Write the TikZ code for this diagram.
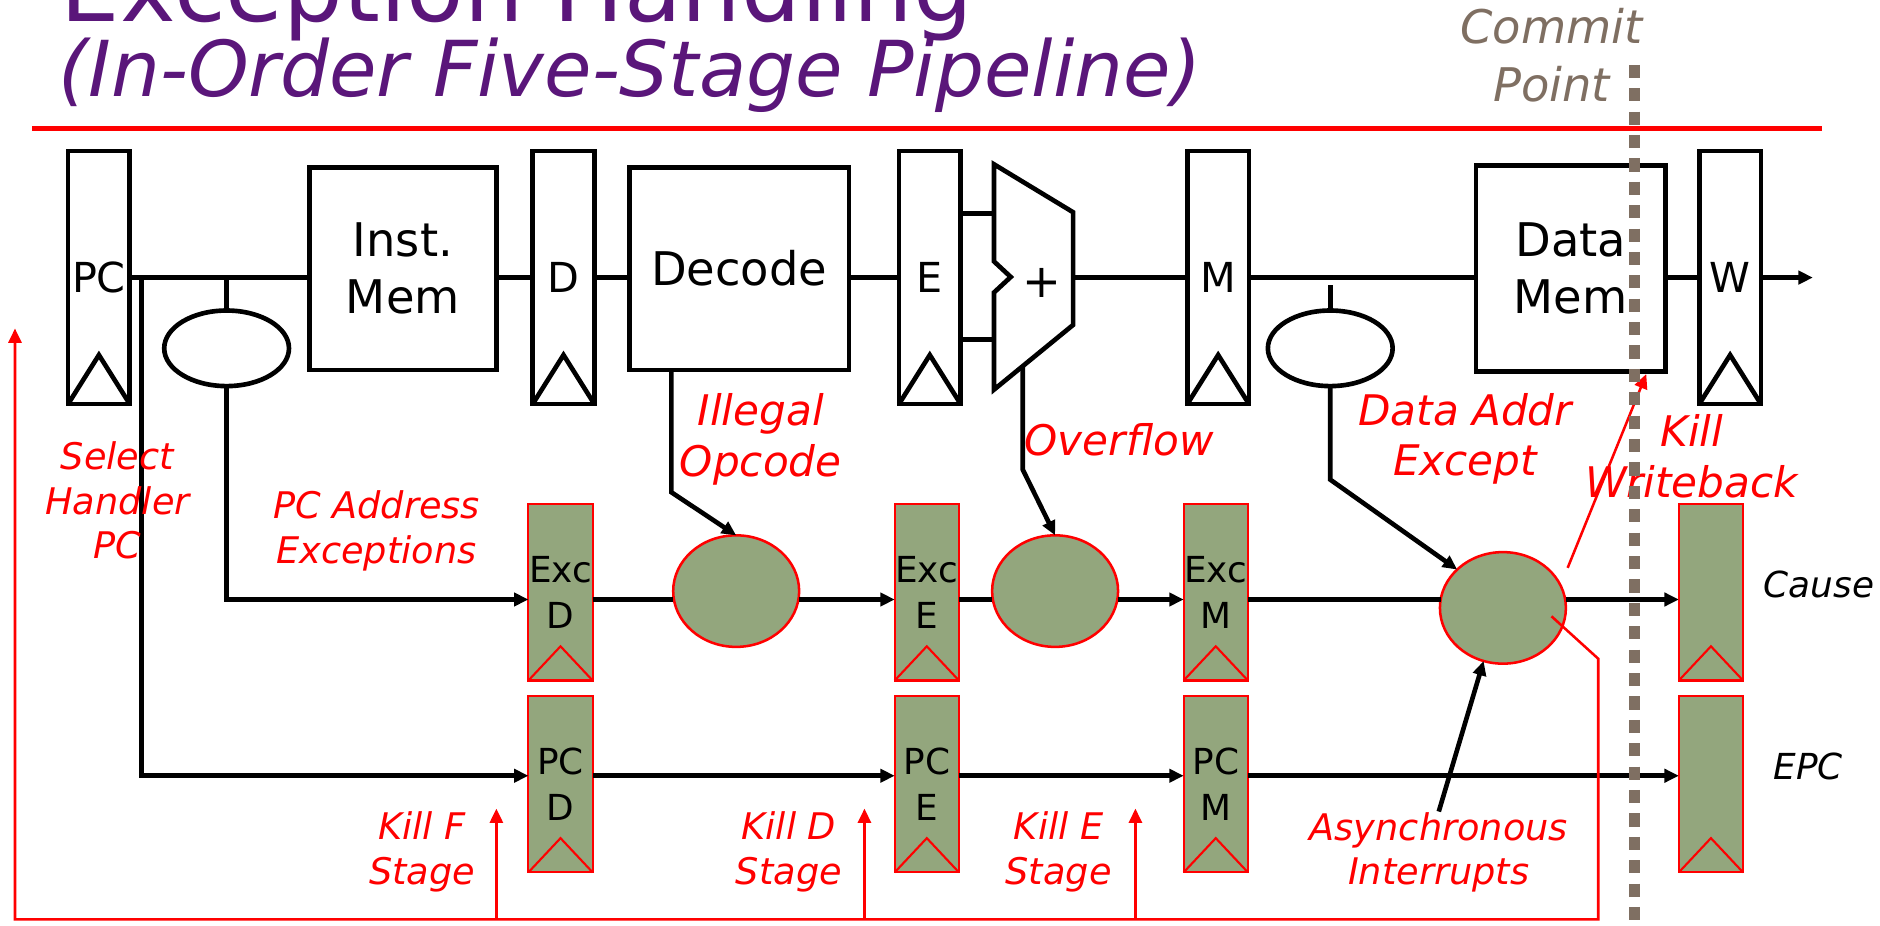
\documentclass[tikz,border=0pt]{standalone}
\usepackage{fontspec}
\setmainfont{DejaVu Sans}
\usetikzlibrary{shapes.geometric,arrows.meta,calc}
\definecolor{ttl}{RGB}{90,22,122}
\definecolor{grn}{RGB}{147,166,125}
\definecolor{cmt}{RGB}{127,111,98}
\tikzset{
  wire/.style={line width=1.1pt},
  kill/.style={red,line width=0.6pt},
  reg/.style={draw,line width=1.1pt,inner sep=0pt,outer sep=0pt,minimum width=0.515cm,minimum height=2.11cm,font=\fontsize{9.8}{11}\selectfont},
  block/.style={draw,line width=1.1pt,inner sep=0pt,outer sep=0pt,align=center,font=\fontsize{11}{13.6}\selectfont},
  mux/.style={draw,ellipse,line width=1.1pt,inner sep=0pt,outer sep=0pt,minimum width=1.04cm,minimum height=0.63cm},
  greg/.style={draw=red,fill=grn,line width=0.5pt,inner sep=0pt,outer sep=0pt,minimum width=0.535cm,minimum height=1.47cm,align=center,font=\fontsize{8.5}{11}\selectfont},
  gbub/.style={draw=red,fill=grn,ellipse,line width=0.6pt,inner sep=0pt,outer sep=0pt,minimum width=1.05cm,minimum height=0.93cm},
  lbl/.style={red,inner sep=0pt,align=center,font=\itshape\fontsize{8.7}{10.6}\selectfont},
  biglbl/.style={red,inner sep=0pt,align=center,font=\itshape\fontsize{10}{12}\selectfont},
}

\begin{document}
\begin{tikzpicture}[x=0.01cm,y=-0.01cm,>={Triangle[length=0.12cm,width=0.11cm]}]
    \useasboundingbox (0,0) rectangle (1568,772);
    % title
    \node[ttl,anchor=base west,inner sep=0pt,font=\fontsize{22.3}{27}\selectfont] (title) at (50,18) {Exception Handling};
    \node[ttl,anchor=base west,inner sep=0pt,font=\itshape\fontsize{18.3}{21}\selectfont] (subtitle) at (48,80.5) {(In-Order Five-Stage Pipeline)};
    \draw[red,line width=0.04cm] (27,107) -- (1520,107);
    \node[cmt,inner sep=0pt,align=center,font=\itshape\fontsize{11}{13.6}\selectfont] (commit) at (1294,46) {Commit\\Point};

    % main pipeline
    \node[reg] (PC) at (82.5,231.5) {PC};
    \node[block,minimum width=1.56cm,minimum height=1.69cm] (IM) at (336,224) {Inst.\\Mem};
    \node[reg] (D) at (470,231.5) {D};
    \node[block,minimum width=1.83cm,minimum height=1.69cm] (DEC) at (616.5,224) {Decode};
    \node[reg] (E) at (775.5,231.5) {E};
    \node[reg] (M) at (1016,231.5) {M};
    \node[block,minimum width=1.58cm,minimum height=1.72cm] (DM) at (1310,224) {Data\\Mem};
    \node[reg] (W) at (1443,231.5) {W};
    \coordinate (out) at (1512,231.5);
    \foreach \r in {PC,D,E,M,W}
        \draw[wire] (\r.south west) -- ($(\r.south)+(0,-41)$) -- (\r.south east);

    % ALU
    \coordinate (aluA) at (829,178);
    \coordinate (aluB) at (829,283);
    \coordinate (aluout) at (895,231.5);
    \coordinate (aluC) at (853,305.6);
    \draw[wire] (829,137) -- (895,177) -- (895,271) -- (829,325) -- (829,244) -- (843,231) -- (829,218) -- cycle;
    \node[font=\fontsize{11}{13}\selectfont] (aluop) at (869,236) {+};

    % muxes
    \node[mux] (mux1) at (189,290.5) {};
    \node[mux] (mux2) at (1109.5,290.5) {};

    \draw[wire] (PC.east) -- (PC.east -| IM.west);
    \draw[wire] (IM.east |- D.west) -- (D.west);
    \draw[wire] (D.east) -- (D.east -| DEC.west);
    \draw[wire] (DEC.east |- E.west) -- (E.west);
    \draw[wire] (E.east |- aluA) -- (aluA);
    \draw[wire] (E.east |- aluB) -- (aluB);
    \draw[wire] (aluout) -- (aluout -| M.west);
    \draw[wire] (M.east) -- (M.east -| DM.west);
    \draw[wire] (DM.east |- W.west) -- (W.west);
    \draw[wire,->] (W.east) -- (out);
    \draw[wire] (mux1.north) -- (mux1.north |- PC.east);
    \draw[wire] (mux2.north) -- ++(0,-21);

    % exception pipeline
    \coordinate (excrow) at (0,500);
    \coordinate (pcrow) at (0,647);
    \node[greg] (ExcD) at (467.5,494) {Exc\\D};
    \node[greg] (PCD) at (467.5,654) {PC\\D};
    \node[greg] (ExcE) at (773,494) {Exc\\E};
    \node[greg] (PCE) at (773,654) {PC\\E};
    \node[greg] (ExcM) at (1014,494) {Exc\\M};
    \node[greg] (PCM) at (1014,654) {PC\\M};
    \node[greg] (CauseR) at (1427,494) {};
    \node[greg] (EPCR) at (1427,654) {};
    \foreach \r in {ExcD,PCD,ExcE,PCE,ExcM,PCM,CauseR,EPCR}
        \draw[red,line width=0.5pt] (\r.south west) -- ($(\r.south)+(0,-28.5)$) -- (\r.south east);
    \node[gbub] (g1) at (614,493) {};
    \node[gbub] (g2) at (880,493) {};
    \node[gbub] (g3) at (1253.5,507) {};

    \draw[wire,->] (mux1.south) |- (excrow -| ExcD.west);
    \draw[wire,->] ($(PC.east)+(10,0)$) |- (pcrow -| PCD.west);
    \draw[wire] (ExcD.east |- excrow) -- (excrow -| g1.west);
    \draw[wire,->] (g1.east |- excrow) -- (excrow -| ExcE.west);
    \draw[wire] (ExcE.east |- excrow) -- (excrow -| g2.west);
    \draw[wire,->] (g2.east |- excrow) -- (excrow -| ExcM.west);
    \draw[wire] (ExcM.east |- excrow) -- ($(excrow -| g3.west)+(1,0)$);
    \draw[wire,->] (g3.east |- excrow) -- (excrow -| CauseR.west);
    \draw[wire,->] (PCD.east |- pcrow) -- (pcrow -| PCE.west);
    \draw[wire,->] (PCE.east |- pcrow) -- (pcrow -| PCM.west);
    \draw[wire,->] (PCM.east |- pcrow) -- (pcrow -| EPCR.west);

    \draw[wire,->] ($(DEC.south west)+(35,0)$) -- ++(0,102) -- (g1.north);
    \draw[wire,->] (aluC) -- ++(0,86) -- (g2.north);
    \draw[wire,->] (mux2.south) -- ++(0,78) -- (g3.140);

    % labels
    \node[lbl] (sel) at (98,417.5) {Select\\Handler\\PC};
    \node[lbl] (pcexc) at (314,442.5) {PC Address\\Exceptions};
    \node[biglbl] (illop) at (634.5,366.5) {Illegal\\Opcode};
    \node[biglbl] (ovf) at (933.5,366.5) {Overflow};
    \node[biglbl] (dae) at (1222,366) {Data Addr\\Except};
    \node[biglbl] (kwb) at (1411,380.5) {Kill\\Writeback};
    \node[lbl] (killFt) at (352,710.5) {Kill F\\Stage};
    \node[lbl] (killDt) at (658,710.5) {Kill D\\Stage};
    \node[lbl] (killEt) at (883,710.5) {Kill E\\Stage};
    \node[lbl] (async) at (1200,711) {Asynchronous\\Interrupts};
    \node[inner sep=0pt,font=\itshape\fontsize{8.5}{10}\selectfont] (cause) at (1517,487.5) {Cause};
    \node[inner sep=0pt,font=\itshape\fontsize{8.5}{10}\selectfont] (epc) at (1508,639) {EPC};

    \draw[wire,->] (async.north) -- (g3.250);

    % kill signals
    \coordinate (ktap) at (1294,514);
    \coordinate (busR) at (1333,766.7);
    \coordinate (busL) at (12.5,766.7);
    \coordinate (selPC) at (12.5,274);
    \coordinate (kwfrom) at (1307.5,473.6);
    \draw[kill,->] (ktap) -- ($(busR)+(0,-217.3)$) -- (busR) -- (busL) -- (selPC);
    \foreach \k/\x in {F/414,D/721,E/947}{
        \coordinate (kill\k) at (\x,674.4);
        \draw[kill,->] (kill\k |- busL) -- (kill\k);
    }
    \draw[kill,->] (kwfrom) -- ($(DM.south east)+(-16,2)$);

    % commit point
    \coordinate (cmtop) at (1363,54);
    \draw[cmt,line width=0.09cm,dash pattern=on 0.11cm off 0.085cm] (cmtop) -- ++(0,718);
\end{tikzpicture}
\end{document}
